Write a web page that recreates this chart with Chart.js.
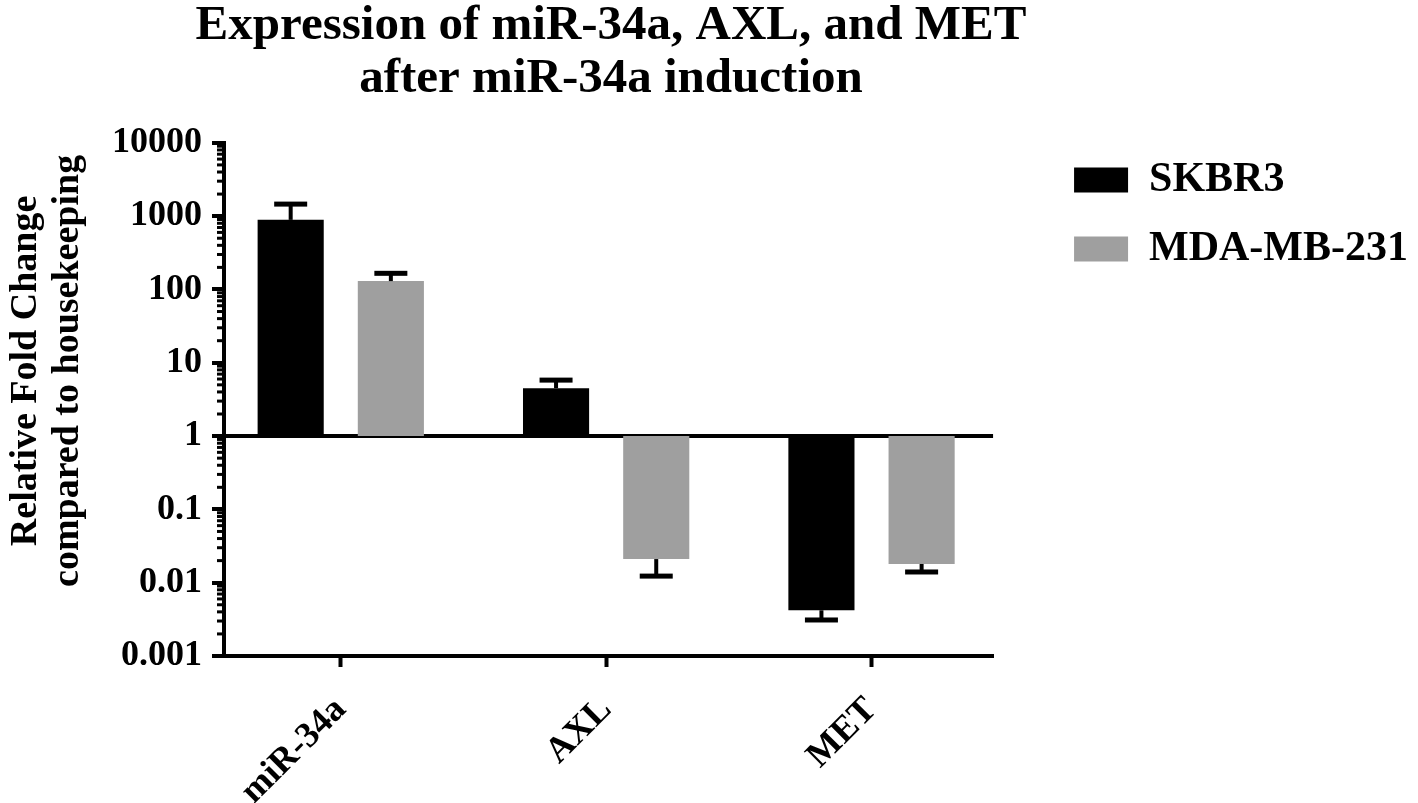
<!DOCTYPE html>
<html>
  <head>
    <meta charset="UTF-8">
    <title>Expression of miR-34a, AXL, and MET after miR-34a induction</title>
    <script src="https://cdn.jsdelivr.net/npm/chart.js"></script>
    <style>
      html, body { margin: 0; padding: 0; background: #fff; }
      #wrap { width: 1418px; height: 803px; }
    </style>
  </head>
  <body>
    <div id="wrap"><canvas id="foldChart"></canvas></div>

    <script>
      // values (relative fold change, log scale, base 1)
      const genes = ['miR-34a', 'AXL', 'MET'];
      const skbr3 = [890, 4.5, 0.0042];
      const skbr3ErrEnd = [1460, 5.8, 0.0031];
      const mda = [130, 0.021, 0.018];
      const mdaErrEnd = [166, 0.0123, 0.014];
      const yTickLabels = ['0.001', '0.01', '0.1', '1', '10', '100', '1000', '10000'];

      const serif = "'Liberation Serif', 'Times New Roman', serif";
      // trailing pad keeps the full-width title centred over the plot, not the page
      const titlePad = ' '.repeat(16);

      function decade(v) {
        const e = Math.log10(v);
        return Math.abs(e - Math.round(e)) < 1e-6 ? Math.round(e) : null;
      }

      // error bar whiskers, drawn from the bar end away from the baseline at 1
      const errorBars = {
        id: 'errorBars',
        afterDatasetsDraw(chart) {
          const ctx = chart.ctx;
          const y = chart.scales.y;
          chart.data.datasets.forEach((ds, i) => {
            chart.getDatasetMeta(i).data.forEach((bar, j) => {
              const tip = y.getPixelForValue(ds.data[j].y[1]);
              const end = y.getPixelForValue(ds.errEnd[j]);
              ctx.save();
              ctx.fillStyle = '#000';
              ctx.fillRect(bar.x - 2, Math.min(tip, end), 4, Math.abs(end - tip));
              ctx.fillRect(bar.x - 16.5, end - 2.5, 33, 5);
              ctx.restore();
            });
          });
        }
      };

      // short minor ticks at 2..9 of every decade
      const minorTicks = {
        id: 'minorTicks',
        afterDraw(chart) {
          const ctx = chart.ctx;
          const y = chart.scales.y;
          const x0 = chart.chartArea.left;
          ctx.save();
          ctx.fillStyle = '#000';
          y.ticks.forEach(t => {
            const e = Math.floor(Math.log10(t.value) + 1e-9);
            const m = Math.round(t.value / Math.pow(10, e) * 1000) / 1000;
            if (Number.isInteger(m) && m >= 2 && m <= 9) {
              const py = y.getPixelForValue(t.value);
              ctx.fillRect(x0 - 7, py - 1.5, 7, 3);
            }
          });
          ctx.restore();
        }
      };

      const ctx = document.getElementById('foldChart').getContext('2d');
      new Chart(ctx, {
        type: 'bar',
        data: {
          datasets: [{
            label: 'SKBR3',
            data: skbr3.map((v, i) => ({ x: i, y: [1, v] })),
            errEnd: skbr3ErrEnd,
            backgroundColor: '#000000',
            borderWidth: 0
          }, {
            label: 'MDA-MB-231',
            data: mda.map((v, i) => ({ x: i, y: [1, v] })),
            errEnd: mdaErrEnd,
            backgroundColor: '#9f9f9f',
            borderWidth: 0
          }]
        },
        options: {
          responsive: true,
          maintainAspectRatio: false,
          animation: false,
          categoryPercentage: 0.755,
          barPercentage: 0.66,
          layout: { padding: 0 },
          plugins: {
            tooltip: { enabled: false },
            title: {
              display: true,
              fullSize: true,
              text: ['Expression of miR-34a, AXL, and MET' + titlePad, 'after miR-34a induction' + titlePad],
              color: '#000',
              font: { family: serif, size: 49, weight: 'bold', lineHeight: 1.08 },
              padding: { top: 0, bottom: 37 }
            },
            legend: {
              position: 'right',
              align: 'start',
              maxWidth: 420,
              title: {
                display: true,
                text: ' ',
                font: { size: 10, lineHeight: 1.2 },
                padding: { top: 0, bottom: 120 }
              },
              labels: {
                boxWidth: 54,
                boxHeight: 25,
                padding: 27,
                color: '#000',
                font: { family: serif, size: 42, weight: 'bold' }
              }
            }
          },
          scales: {
            x: {
              type: 'linear',
              min: -0.44,
              max: 2.458,
              offset: false,
              afterBuildTicks: s => { s.ticks = genes.map((g, i) => ({ value: i })); },
              afterFit: s => { s.height = 147; },
              ticks: {
                autoSkip: false,
                minRotation: 45,
                maxRotation: 45,
                padding: 22,
                color: '#000',
                font: { family: serif, size: 36, weight: 'bold' },
                callback: v => genes[v]
              },
              grid: {
                offset: false,
                drawOnChartArea: false,
                drawTicks: true,
                tickLength: 11,
                tickWidth: 4,
                tickColor: '#000'
              },
              border: { display: true, color: '#000', width: 4 }
            },
            y: {
              type: 'logarithmic',
              min: 0.001,
              max: 10000,
              z: 1,
              afterFit: s => { s.width = 224; },
              title: {
                display: true,
                text: ['      Relative Fold Change', '      compared to housekeeping'],
                color: '#000',
                font: { family: serif, size: 38, weight: 'bold', lineHeight: 1.1 },
                padding: { top: 5, bottom: 0 }
              },
              ticks: {
                autoSkip: false,
                padding: 10,
                color: '#000',
                font: { family: serif, size: 36, weight: 'bold' },
                callback: v => {
                  const e = decade(v);
                  return e === null ? '' : yTickLabels[e + 3];
                }
              },
              grid: {
                drawOnChartArea: true,
                drawTicks: true,
                tickLength: 12,
                lineWidth: 4,
                tickWidth: 4,
                color: c => (c.tick && decade(c.tick.value) === 0) ? '#000' : 'rgba(0,0,0,0)',
                tickColor: c => (c.tick && decade(c.tick.value) !== null) ? '#000' : 'rgba(0,0,0,0)'
              },
              border: { display: true, color: '#000', width: 4 }
            },
            spacer: {
              type: 'linear',
              position: 'right',
              afterFit: s => { s.width = 54; },
              ticks: { display: false },
              grid: { display: false, drawTicks: false },
              border: { display: false }
            }
          }
        },
        plugins: [errorBars, minorTicks]
      });
    </script>
  </body>
</html>
